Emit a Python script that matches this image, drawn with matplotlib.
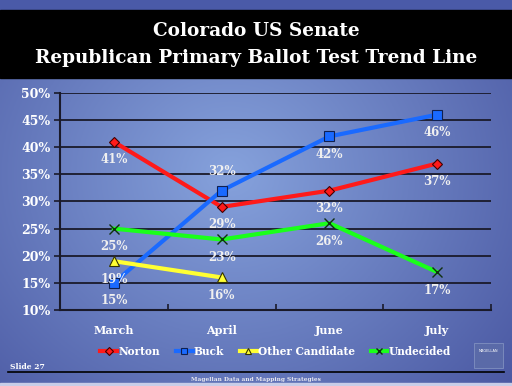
import numpy as np
import matplotlib.pyplot as plt
from matplotlib.patches import Rectangle

months = ["March", "April", "June", "July"]
norton = [41, 29, 32, 37]
buck = [15, 32, 42, 46]
other = [19, 16, np.nan, np.nan]
undecided = [25, 23, 26, 17]
yticks = [10, 15, 20, 25, 30, 35, 40, 45, 50]

W, H = 512, 386
fig = plt.figure(figsize=(W / 100, H / 100), dpi=100)
serif = ["DejaVu Serif"]

# background gradient (lighter in the middle)
bg = fig.add_axes([0, 0, 1, 1])
yy, xx = np.mgrid[0:1:200j, 0:1:260j]
d = np.sqrt(((xx - 0.45) / 0.75) ** 2 + ((yy - 0.45) / 0.9) ** 2)
d = np.clip(d, 0, 1)
c_in = np.array([0x86, 0xa2, 0xdc]) / 255
c_out = np.array([0x48, 0x55, 0xa0]) / 255
img = c_in[None, None, :] * (1 - d[..., None]) + c_out[None, None, :] * d[..., None]
bg.imshow(img, extent=[0, W, H, 0], aspect="auto")
bg.set_xlim(0, W)
bg.set_ylim(H, 0)
bg.axis("off")
bg.add_patch(Rectangle((0, 0), W, 10, color="#4a5aa8"))
bg.add_patch(Rectangle((0, 10), W, 68, color="black"))
bg.add_patch(Rectangle((0, 383), W, 3, color="#c8cde8"))
bg.plot([8, 504], [372, 372], color="black", lw=1.2)
bg.text(W / 2, 31, "Colorado US Senate", color="white", ha="center", va="center",
        fontsize=13.3, fontweight="bold", family=serif)
bg.text(W / 2, 58, "Republican Primary Ballot Test Trend Line", color="white",
        ha="center", va="center", fontsize=13.3, fontweight="bold", family=serif)
bg.text(10, 367, "Slide 27", color="white", fontsize=5.5, fontweight="bold",
        va="center", family=serif)
bg.text(W / 2, 380, "Magellan Data and Mapping Strategies", color="#e8e8f0",
        fontsize=4.2, fontweight="bold", ha="center", va="center", family=serif)
bg.add_patch(Rectangle((474, 343), 29, 25, color="#5a6aa8", ec="#8090c0", lw=0.6))
bg.text(488.5, 351, "MAGELLAN", color="white", fontsize=2.5, ha="center", va="center")

ax = fig.add_axes([60 / W, 1 - 310 / H, 431 / W, 217 / H])
ax.patch.set_alpha(0)
x = np.arange(len(months))
ax.set_xlim(-0.5, 3.5)
ax.set_ylim(10, 50)
ax.set_yticks(yticks)
ax.set_yticklabels([f"{v}%" for v in yticks])
ax.set_xticks(np.arange(-0.5, 4, 1))
ax.set_xticklabels([])
ax.set_xticks(x, minor=True)
ax.set_xticklabels(months, minor=True)
ax.tick_params(axis="x", which="minor", length=0, pad=11)
ax.tick_params(axis="x", which="major", length=4, direction="in", width=1.2, color="#1a1a2a")
ax.tick_params(axis="y", length=4, direction="out", width=1.2, color="#1a1a2a", pad=3)
for lab in ax.get_yticklabels() + ax.get_xticklabels(minor=True):
    lab.set_color("white")
    lab.set_fontweight("bold")
    lab.set_family(serif)
    lab.set_fontsize(9)
for lab in ax.get_xticklabels(minor=True):
    lab.set_fontsize(8)
ax.grid(axis="y", color="#1a1a2a", lw=1.3)
ax.set_axisbelow(True)
for s in ["top", "right"]:
    ax.spines[s].set_visible(False)
ax.spines["left"].set_color("#1a1a2a")
ax.spines["left"].set_linewidth(1.5)
ax.spines["bottom"].set_color("#1a1a2a")
ax.spines["bottom"].set_linewidth(1.5)

ax.plot(x, norton, color="#ff1a1a", lw=3, marker="D", ms=5, mfc="#ff1a1a",
        mec="#400000", mew=0.8, label="Norton", zorder=3)
ax.plot(x, buck, color="#1a6aff", lw=3, marker="s", ms=7, mfc="#1a6aff",
        mec="#102050", mew=0.8, label="Buck", zorder=3)
ax.plot(x, other, color="#ffff33", lw=3, marker="^", ms=7, mfc="#ffff33",
        mec="#333300", mew=0.8, label="Other Candidate", zorder=3)
ax.plot(x, undecided, color="#1aff1a", lw=3, marker="x", ms=7, mfc="#1aff1a",
        mec="#103010", mew=1.0, label="Undecided", zorder=3)

lab_kw = dict(color="#f0f0f0", fontsize=8.5, fontweight="bold", ha="center",
              va="center", family=serif, zorder=4)
for series in [norton, buck, other, undecided]:
    for i, v in enumerate(series):
        if np.isnan(v):
            continue
        off = -13
        if series is buck and i == 1:
            off = 14
        ax.annotate(f"{v}%", (x[i], v), xytext=(0, off), textcoords="offset points", **lab_kw)

leg = ax.legend(loc="upper center", bbox_to_anchor=(0.5, -0.12), ncol=4, frameon=False,
                handlelength=1.6, handletextpad=0.1, columnspacing=1.5,
                prop={"family": serif[0], "weight": "bold", "size": 7.6})
for t in leg.get_texts():
    t.set_color("white")
for h in leg.legend_handles:
    h.set_markersize(4.5)

fig.savefig("out.png", dpi=100)
